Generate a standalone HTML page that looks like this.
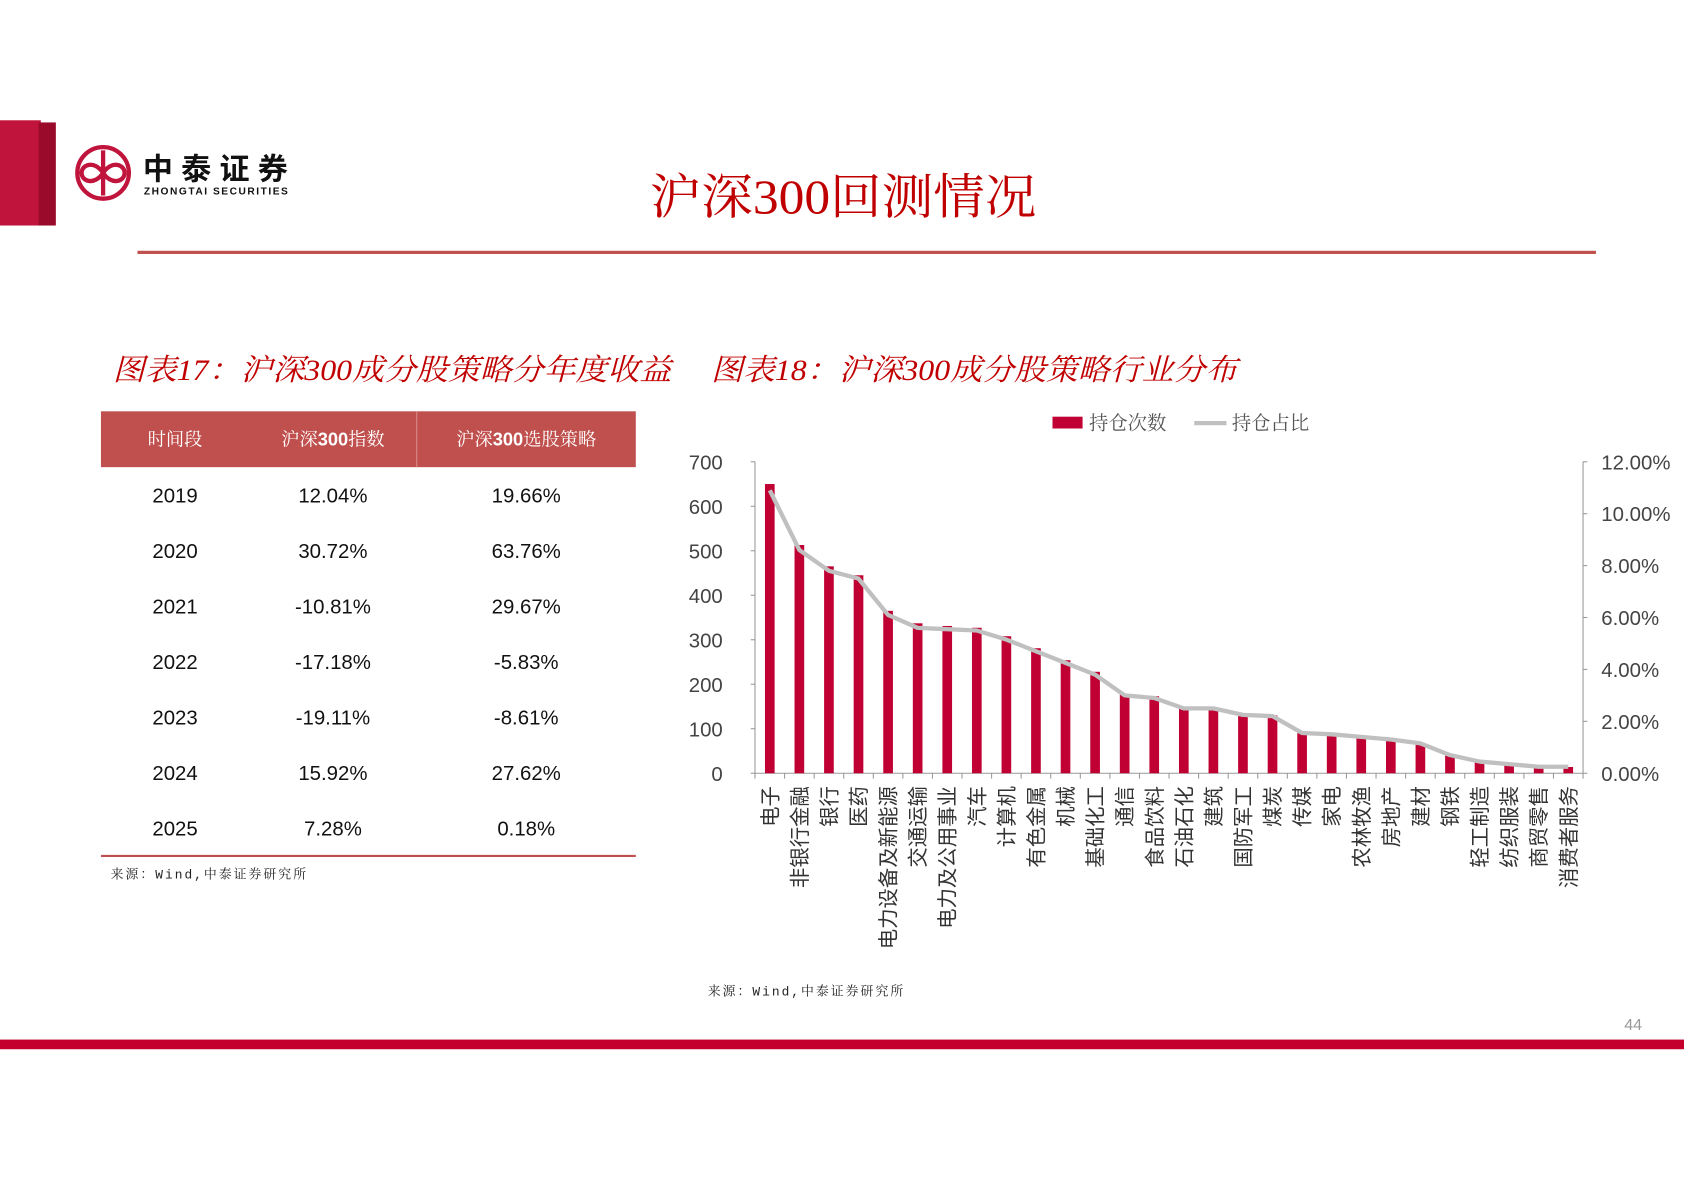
<!DOCTYPE html>
<html><head><meta charset="utf-8">
<style>
html,body{margin:0;padding:0;background:#fff;}
svg{display:block;}
.cjk{font-family:"Liberation Sans","Noto Sans CJK SC",sans-serif;}
.serif{font-family:"Liberation Serif","Noto Serif CJK SC",serif;}
</style></head>
<body>
<svg id="page" width="1684" height="1191" viewBox="0 0 1568 1109" preserveAspectRatio="none" xmlns="http://www.w3.org/2000/svg">
  <g>
    <rect x="0" y="112" width="38" height="98" fill="#c0143c"/>
    <rect x="36" y="114" width="16" height="96" fill="#9a0a2a"/>
    <g>
      <circle cx="96" cy="161" r="24" fill="none" stroke="#c0143c" stroke-width="4"/>
      <path d="M96 140 V182 M96 161 c-8 -12 -20 -8 -20 0 c0 8 12 12 20 0 c8 -12 20 -8 20 0 c0 8 -12 12 -20 0" fill="none" stroke="#c0143c" stroke-width="4"/>
      <text x="133" y="167" class="cjk" font-size="28" font-weight="bold" fill="#111" textLength="135">中泰证券</text>
      <text x="134" y="181" class="cjk" font-size="9.5" font-weight="bold" fill="#111" textLength="134">ZHONGTAI SECURITIES</text>
    </g>
    <text x="605" y="199" class="serif" font-size="45" fill="#c00000" textLength="360" lengthAdjust="spacingAndGlyphs">沪深300回测情况</text>
    <rect x="128" y="233.5" width="1358" height="3" fill="#c0504d"/>
  </g>

  <text x="105" y="354" class="serif" font-size="28" font-style="italic" fill="#c00000" textLength="520" lengthAdjust="spacingAndGlyphs">图表17：沪深300成分股策略分年度收益</text>
  <text x="662" y="354" class="serif" font-size="28" font-style="italic" fill="#c00000" textLength="490" lengthAdjust="spacingAndGlyphs">图表18：沪深300成分股策略行业分布</text>

  <g id="table">
    <rect x="94" y="383" width="498" height="52" fill="#c0504d"/>
    <line x1="388" y1="383" x2="388" y2="435" stroke="#d98a88" stroke-width="1"/>
    <text x="163" y="415" text-anchor="middle" class="serif" font-size="17" fill="#fff">时间段</text>
    <text x="310" y="415" text-anchor="middle" class="serif" font-size="17" fill="#fff">沪深<tspan font-weight="bold" font-family="Liberation Sans">300</tspan>指数</text>
    <text x="490" y="415" text-anchor="middle" class="serif" font-size="17" fill="#fff">沪深<tspan font-weight="bold" font-family="Liberation Sans">300</tspan>选股策略</text>
    <line x1="94" y1="797" x2="592" y2="797" stroke="#c0504d" stroke-width="2"/>
  </g>
  <text x="103" y="818" font-family="Liberation Mono,'Noto Serif CJK SC',monospace" font-size="12" fill="#222" textLength="182">来源：Wind,中泰证券研究所</text>

  <g id="chart"></g>

  <text x="659" y="927" font-family="Liberation Mono,'Noto Serif CJK SC',monospace" font-size="12" fill="#222" textLength="182">来源：Wind,中泰证券研究所</text>
  <text x="1529" y="959" text-anchor="end" font-family="Liberation Sans" font-size="15" fill="#999">44</text>
  <rect x="0" y="968" width="1568" height="9" fill="#c4002f"/>
</svg>
<script>
const years = ['2019','2020','2021','2022','2023','2024','2025'];
const indexReturns = ['12.04%','30.72%','-10.81%','-17.18%','-19.11%','15.92%','7.28%'];
const strategyReturns = ['19.66%','63.76%','29.67%','-5.83%','-8.61%','27.62%','0.18%'];

const industries = ['电子','非银行金融','银行','医药','电力设备及新能源','交通运输','电力及公用事业','汽车','计算机','有色金属','机械','基础化工','通信','食品饮料','石油石化','建筑','国防军工','煤炭','传媒','家电','农林牧渔','房地产','建材','钢铁','轻工制造','纺织服装','商贸零售','消费者服务'];
const holdCounts = [650,513,465,445,365,337,331,327,308,281,254,228,177,173,146,146,131,130,90,87,80,77,67,42,28,22,14,14];
const holdShare = [10.9,8.6,7.8,7.5,6.1,5.6,5.55,5.5,5.15,4.7,4.25,3.8,3.0,2.9,2.5,2.5,2.25,2.2,1.55,1.5,1.4,1.3,1.15,0.7,0.45,0.35,0.25,0.25];
const leftTicks = [0,100,200,300,400,500,600,700];
const rightTicks = [0,2,4,6,8,10,12];

const NS='http://www.w3.org/2000/svg';
function mk(tag, attrs, parent, txt){const e=document.createElementNS(NS,tag);for(const k in attrs)e.setAttribute(k,attrs[k]);if(txt!==undefined)e.textContent=txt;parent.appendChild(e);return e;}

const table=document.getElementById('table');
years.forEach((y,i)=>{
  const cy=468+i*51.7;
  const t1=mk('text',{x:163,y:cy,'text-anchor':'middle','font-family':'Liberation Sans','font-size':19,fill:'#111'},table,y);
  
  
  const t2=mk('text',{x:310,y:cy,'text-anchor':'middle','font-family':'Liberation Sans','font-size':19,fill:'#111'},table,indexReturns[i]);
  
  
  const t3=mk('text',{x:490,y:cy,'text-anchor':'middle','font-family':'Liberation Sans','font-size':19,fill:'#111'},table,strategyReturns[i]);
  
  
});

const g=document.getElementById('chart');
const X0=703,X1=1474,Y0=720,YT=430;
const yL=v=>Y0-(v/700)*(Y0-YT);
const yR=v=>Y0-(v/12)*(Y0-YT);
const slot=(X1-X0)/industries.length;
const xc=i=>X0+slot*(i+0.5);

mk('line',{x1:X0,y1:YT,x2:X0,y2:Y0,stroke:'#999'},g);
mk('line',{x1:X1,y1:YT,x2:X1,y2:Y0,stroke:'#999'},g);
mk('line',{x1:X0,y1:Y0,x2:X1,y2:Y0,stroke:'#999'},g);
leftTicks.forEach(v=>{
  mk('line',{x1:X0-4,y1:yL(v),x2:X0,y2:yL(v),stroke:'#999'},g);
  const t=mk('text',{x:X0-30,y:yL(v)+7,'text-anchor':'end','font-family':'Liberation Sans','font-size':19,fill:'#444'},g,String(v));
  
  
});
rightTicks.forEach(v=>{
  mk('line',{x1:X1,y1:yR(v),x2:X1+4,y2:yR(v),stroke:'#999'},g);
  const t=mk('text',{x:X1+17,y:yR(v)+7,'font-family':'Liberation Sans','font-size':19,fill:'#444'},g,v.toFixed(2)+'%');
  
  
});
for(let i=0;i<=industries.length;i++){mk('line',{x1:X0+slot*i,y1:Y0,x2:X0+slot*i,y2:Y0+5,stroke:'#999'},g);}
industries.forEach((n,i)=>{
  const b=mk('rect',{x:xc(i)-4.5,y:yL(holdCounts[i]),width:9,height:Y0-yL(holdCounts[i]),fill:'#c00032'},g);
  
  
  const t=mk('text',{x:0,y:0,transform:`translate(${xc(i)+7},732) rotate(-90)`,'text-anchor':'end',class:'cjk','font-size':19,fill:'#333'},g,n);
  
  
});
const pts=holdShare.map((v,i)=>xc(i)+','+yR(v)).join(' ');
const line=mk('polyline',{points:pts,fill:'none',stroke:'#c0c0c0','stroke-width':4,'stroke-linejoin':'round'},g);



const lg=mk('g',{},g);


mk('rect',{x:980,y:388,width:28,height:11,fill:'#c00032'},lg);
mk('text',{x:1014,y:400,class:'serif','font-size':18,fill:'#555'},lg,'持仓次数');
mk('line',{x1:1112,y1:394,x2:1142,y2:394,stroke:'#c0c0c0','stroke-width':4},lg);
mk('text',{x:1147,y:400,class:'serif','font-size':18,fill:'#555'},lg,'持仓占比');
</script>
</body></html>
